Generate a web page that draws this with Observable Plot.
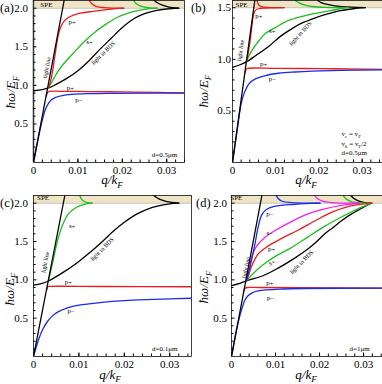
<!DOCTYPE html>
<html><head><meta charset="utf-8">
<script src="https://cdn.jsdelivr.net/npm/d3@7"></script>
<script src="https://cdn.jsdelivr.net/npm/@observablehq/plot@0.6"></script>
<style>
body{margin:0;background:#fff;}
#wrap{position:relative;width:382px;height:384px;overflow:hidden;background:#fff;}
.panel{position:absolute;width:191px;height:192px;}
.panel svg{display:block;}
</style></head><body><div id="wrap"></div>
<script>
// ---------- tick values ----------
const qTicks = [0, 0.01, 0.02, 0.03];
const qMinor = [0.002,0.004,0.006,0.008,0.012,0.014,0.016,0.018,0.022,0.024,0.026,0.028,0.032,0.034];
const wTicks = [0.5, 1.0, 1.5, 2.0];
const wTicksB = [0.5, 1.0, 1.5];
const wMinor = [0.1,0.2,0.3,0.4,0.6,0.7,0.8,0.9,1.1,1.2,1.3,1.4,1.6,1.7,1.8,1.9];

// ---------- panel (a), d = 0.5 um ----------
const a_spe = [2.0, 2.1];
const a_light = [[0,0],[0.0069,2.1]];
const a_bds = [[0,0.93],[0.002,0.945],[0.0034,0.966],[0.005,1.01],[0.0075,1.09],[0.01,1.19],[0.0125,1.32],[0.015,1.47],[0.0175,1.61],[0.02,1.75],[0.0225,1.86],[0.025,1.93],[0.0275,1.97],[0.03,1.99],[0.0327,2.0]];
const a_bdsSpe = [[0.0272,2.1],[0.0279,2.07],[0.029,2.04],[0.0305,2.015],[0.0327,2.0]];
const a_sPlus = [[0.0034,0.97],[0.0045,1.08],[0.0055,1.18],[0.0068,1.28],[0.009,1.42],[0.0113,1.56],[0.0143,1.71],[0.0165,1.8],[0.0188,1.88],[0.0215,1.94],[0.024,1.975],[0.0263,1.995],[0.0278,2.0]];
const a_sPlusSpe = [[0.0226,2.1],[0.0231,2.06],[0.024,2.03],[0.0252,2.012],[0.0278,2.0]];
const a_pPlusUp = [[0.0035,0.98],[0.0041,1.12],[0.0046,1.3],[0.005,1.45],[0.0054,1.6],[0.0059,1.72],[0.0066,1.81],[0.0076,1.87],[0.009,1.91],[0.0105,1.935],[0.0135,1.96],[0.017,1.985],[0.0203,2.0]];
const a_pPlusSpe = [[0.0126,2.1],[0.0131,2.06],[0.0141,2.025],[0.016,2.008],[0.0203,2.0]];
const a_pPlusLow = [[0.0029,0.86],[0.0032,0.91],[0.0037,0.922],[0.006,0.923],[0.012,0.92],[0.02,0.915],[0.028,0.908],[0.034,0.902]];
const a_pMinus = [[0,0],[0.0015,0.43],[0.0022,0.6],[0.0027,0.69],[0.0033,0.76],[0.004,0.81],[0.005,0.845],[0.0065,0.868],[0.0085,0.882],[0.012,0.892],[0.018,0.897],[0.034,0.9]];
const a_labels = [
  {t:"SPE", q:0.0029, w:2.05, kind:"spe"},
  {t:"p₊", q:0.0087, w:1.82, kind:"tag"},
  {t:"s₊", q:0.0126, w:1.56, kind:"tag"},
  {t:"p₊", q:0.0083, w:0.966, kind:"tag"},
  {t:"p₋", q:0.0102, w:0.81, kind:"tag"},
  {t:"light line", q:0.003, w:1.23, kind:"light"},
  {t:"light in BDS", q:0.0157, w:1.42, kind:"bds"},
  {t:"d=0.5μm", q:0.0295, w:0.1, kind:"note"}
];

// ---------- panel (b), ve = vF, vh = vF/2, d = 0.5 um ----------
const b_spe = [1.5, 1.57];
const b_light = [[0,0],[0.00516,1.57]];
const b_bds = [[0,0.923],[0.0016,0.945],[0.0032,0.975],[0.0055,1.04],[0.0085,1.13],[0.011,1.22],[0.0135,1.29],[0.016,1.35],[0.019,1.4],[0.022,1.44],[0.025,1.472],[0.028,1.49],[0.0307,1.5]];
const b_bdsSpe = [[0.0197,1.57],[0.0205,1.55],[0.0222,1.53],[0.0253,1.51],[0.0307,1.5]];
const b_sPlus = [[0.0032,0.98],[0.0045,1.086],[0.0061,1.18],[0.0076,1.25],[0.01,1.31],[0.013,1.377],[0.0161,1.416],[0.0192,1.445],[0.0223,1.47],[0.025,1.49],[0.0268,1.5]];
const b_sPlusSpe = [[0.0145,1.57],[0.0155,1.545],[0.0168,1.525],[0.0184,1.512],[0.0214,1.503],[0.0268,1.5]];
const b_pPlusUp = [[0.0033,0.98],[0.0038,1.1],[0.0042,1.22],[0.0045,1.33],[0.0048,1.42],[0.0052,1.47],[0.006,1.49],[0.008,1.497],[0.0119,1.5]];
const b_pPlusSpe = [[0.0057,1.57],[0.0059,1.54],[0.0064,1.515],[0.0075,1.505],[0.0119,1.5]];
const b_pPlusLow = [[0.0029,0.87],[0.0032,0.905],[0.0036,0.913],[0.01,0.912],[0.02,0.91],[0.03,0.905],[0.0347,0.903]];
const b_pMinus = [[0,0],[0.001,0.29],[0.002,0.57],[0.0026,0.66],[0.003,0.7],[0.0038,0.762],[0.0053,0.81],[0.0076,0.843],[0.0107,0.865],[0.0145,0.877],[0.0184,0.885],[0.025,0.893],[0.0347,0.898]];
const b_labels = [
  {t:"SPE", q:0.0021, w:1.525, kind:"spe"},
  {t:"p₊", q:0.0061, w:1.425, kind:"tag"},
  {t:"s₊", q:0.0092, w:1.28, kind:"tag"},
  {t:"p₊", q:0.0072, w:0.956, kind:"tag"},
  {t:"p₋", q:0.0092, w:0.81, kind:"tag"},
  {t:"light line", q:0.0019, w:1.085, kind:"light"},
  {t:"light in BDS", q:0.0157, w:1.25, kind:"bds"}
];
const b_legend = [
  [["v",0],["e",1],[" = v",0],["F",1]],
  [["v",0],["h",1],[" = v",0],["F",1],["/2",0]],
  [["d=0.5μm",0]]
];

// ---------- panel (c), d = 0.1 um ----------
const c_spe = [2.0, 2.1];
const c_light = [[0,0],[0.0069,2.1]];
const c_bds = [[0,0.93],[0.0017,0.95],[0.0033,0.985],[0.0066,1.1],[0.01,1.24],[0.0125,1.36],[0.015,1.49],[0.0175,1.63],[0.02,1.75],[0.0225,1.85],[0.025,1.92],[0.0275,1.965],[0.03,1.99],[0.032,2.0]];
const c_bdsSpe = [[0.0265,2.1],[0.0272,2.07],[0.028,2.045],[0.0294,2.02],[0.032,2.0]];
const c_sPlus = [[0.0033,0.99],[0.0039,1.14],[0.0044,1.27],[0.0052,1.49],[0.0063,1.7],[0.0077,1.86],[0.0096,1.95],[0.0112,1.985],[0.0129,2.0]];
const c_sPlusSpe = [[0.0102,2.1],[0.0105,2.06],[0.0111,2.025],[0.0118,2.008],[0.0129,2.0]];
const c_pPlus = [[0.0029,0.87],[0.0032,0.912],[0.0037,0.915],[0.015,0.913],[0.0348,0.91]];
const c_pMinus = [[0,0],[0.001,0.2],[0.002,0.35],[0.003,0.45],[0.004,0.52],[0.0055,0.585],[0.0075,0.635],[0.01,0.67],[0.015,0.705],[0.02,0.728],[0.025,0.742],[0.03,0.752],[0.0348,0.76]];
const c_labels = [
  {t:"SPE", q:0.0021, w:2.065, kind:"spe"},
  {t:"s₊", q:0.0085, w:1.71, kind:"tag"},
  {t:"p₊", q:0.0077, w:0.976, kind:"tag"},
  {t:"p₋", q:0.0083, w:0.6, kind:"tag"},
  {t:"light line", q:0.0026, w:1.23, kind:"light"},
  {t:"light in BDS", q:0.0151, w:1.4, kind:"bds"},
  {t:"d=0.1μm", q:0.0289, w:0.095, kind:"note"}
];

// ---------- panel (d), d = 1 um ----------
const d_spe = [2.0, 2.1];
const d_light = [[0,0],[0.0069,2.1]];
const d_bds = [[0,0.925],[0.0017,0.95],[0.0035,0.99],[0.007,1.05],[0.0105,1.15],[0.014,1.27],[0.0175,1.41],[0.019,1.48],[0.0212,1.6],[0.023,1.68],[0.025,1.77],[0.027,1.85],[0.0288,1.91],[0.0305,1.965],[0.0318,2.0]];
const d_bdsSpe = [[0.0271,2.1],[0.0278,2.06],[0.0288,2.03],[0.03,2.01],[0.0318,2.0]];
const d_pMinusUp = [[0.0034,0.99],[0.004,1.12],[0.0046,1.27],[0.0054,1.49],[0.0061,1.7],[0.0069,1.85],[0.008,1.92],[0.0099,1.96],[0.0145,1.985],[0.0201,2.0]];
const d_pMinusSpe = [[0.0102,2.1],[0.0106,2.06],[0.0115,2.025],[0.0135,2.008],[0.0201,2.0]];
const d_sMinus = [[0.0034,0.99],[0.0039,1.1],[0.0046,1.3],[0.0057,1.44],[0.0077,1.56],[0.0098,1.64],[0.0136,1.76],[0.0174,1.86],[0.0212,1.925],[0.025,1.97],[0.029,2.0]];
const d_sMinusSpe = [[0.0189,2.1],[0.0195,2.06],[0.0205,2.03],[0.0227,2.008],[0.029,2.0]];
const d_pPlusUp = [[0.0034,0.99],[0.004,1.08],[0.0046,1.18],[0.0061,1.34],[0.0083,1.44],[0.0114,1.54],[0.0152,1.65],[0.019,1.77],[0.0227,1.88],[0.0265,1.955],[0.0303,1.99],[0.032,2.0]];
const d_sPlus = [[0.0034,0.99],[0.0054,1.11],[0.0077,1.22],[0.0098,1.3],[0.0136,1.42],[0.0174,1.56],[0.0212,1.7],[0.025,1.82],[0.0288,1.93],[0.0311,1.98],[0.0318,2.0]];
const d_sPlusSpe = [[0.0254,2.1],[0.0259,2.06],[0.0268,2.03],[0.028,2.01],[0.0318,2.0]];
const d_pPlusLow = [[0.0027,0.83],[0.003,0.885],[0.0036,0.9],[0.006,0.9],[0.015,0.897],[0.0343,0.893]];
const d_pMinusLow = [[0,0],[0.0015,0.44],[0.0025,0.65],[0.003,0.73],[0.0037,0.79],[0.0047,0.83],[0.006,0.855],[0.008,0.87],[0.011,0.88],[0.016,0.887],[0.0343,0.892]];
const d_labels = [
  {t:"SPE", q:0.0011, w:2.065, kind:"spe"},
  {t:"p₋", q:0.0087, w:1.86, kind:"tag"},
  {t:"s₋", q:0.0087, w:1.61, kind:"tag"},
  {t:"p₊", q:0.0091, w:1.4, kind:"tag"},
  {t:"s₊", q:0.0091, w:1.23, kind:"tagr"},
  {t:"p₊", q:0.0087, w:0.96, kind:"tag"},
  {t:"p₋", q:0.0089, w:0.77, kind:"tag"},
  {t:"light line", q:0.0033, w:1.16, kind:"light"},
  {t:"light in BDS", q:0.0159, w:1.23, kind:"bds"},
  {t:"d=1μm", q:0.0291, w:0.1, kind:"note"}
];

// ---------- styling (kept out of the data) ----------
const COLOR = {red:"#ec1c1c", green:"#1fbe1f", blue:"#1a2be8", magenta:"#ee22ee", black:"#000"};
const SPE_FILL = "#efe4c4";
const SERIF = "'Liberation Serif','DejaVu Serif',serif";
const fmtX = d => d === 0 ? "0" : d3.format(".2f")(d);
const fmtY = d => d3.format(".1f")(d);

function rich(g, x, y, parts, size, opts = {}) {
  const t = g.append("text").attr("x", x).attr("y", y)
    .attr("font-family", SERIF).attr("font-size", size).attr("fill", "#000")
    .attr("text-anchor", opts.anchor || "start");
  if (opts.rotate) t.attr("transform", `rotate(${opts.rotate},${x},${y})`);
  if (opts.italic) t.attr("font-style", "italic");
  let sub = false;
  for (const [s, isSub] of parts) {
    const ts = t.append("tspan").text(s);
    if (isSub && !sub) { ts.attr("dy", size * 0.3).attr("font-size", size * 0.7); sub = true; }
    else if (!isSub && sub) { ts.attr("dy", -size * 0.3); sub = false; }
    else if (isSub) ts.attr("font-size", size * 0.7);
  }
  return t;
}

function makePanel(p) {
  const X = d => d[0], Y = d => d[1];
  const rot = {light: p.lightRot, bds: p.bdsRot, tagr: -35};
  const fsz = {spe: 7, tag: 7, tagr: 7, light: 6, bds: 6, note: 7};
  const marks = [
    Plot.rect([p.spe], {x1: () => 0, x2: () => p.xMax, y1: d => d[0], y2: d => d[1], fill: SPE_FILL}),
    Plot.ruleY([p.spe[0]], {stroke: "#bcb6a4", strokeWidth: 0.9}),
  ];
  if (p.grayAxis) marks.push(Plot.ruleX([0], {stroke: "#b8b8b8", strokeWidth: 2.5}));
  for (const c of p.curves) {
    marks.push(Plot.line(c.data, {x: X, y: Y, stroke: COLOR[c.color], strokeWidth: 1.3, curve: "catmull-rom", clip: true}));
  }
  marks.push(Plot.text(p.labels, {
    x: d => d.q, y: d => d.w, text: d => d.t,
    rotate: d => rot[d.kind] || 0, fontSize: d => fsz[d.kind],
    fill: "#000", fontFamily: SERIF, textAnchor: "middle"
  }));
  marks.push(
    Plot.axisX({ticks: qMinor.concat(qTicks).filter(v => v <= p.xMax), tickSize: -2.5, tickFormat: () => "", label: null, stroke: "#000"}),
    Plot.axisX({ticks: qTicks, tickSize: -3.5, tickPadding: 7, tickFormat: fmtX, fontSize: 11, label: null}),
    Plot.axisY({ticks: wMinor.filter(v => v <= p.yMax), tickSize: -2.5, tickFormat: () => "", label: null}),
    Plot.axisY({ticks: p.wTicks, tickSize: -3.5, tickPadding: p.ytp, tickFormat: fmtY, fontSize: 11, label: null}),
    Plot.frame({stroke: "#111", strokeWidth: 0.8})
  );
  const svg = Plot.plot({
    width: 191, height: 192,
    marginLeft: p.ml, marginRight: p.mr, marginTop: p.mt, marginBottom: p.mb,
    x: {domain: [0, p.xMax], label: null},
    y: {domain: [0, p.yMax], label: null},
    style: {fontFamily: SERIF, fontSize: "11px", background: "transparent", overflow: "visible"},
    marks
  });
  const g = d3.select(svg).append("g");
  // panel letter
  g.append("text").attr("x", p.tag[0]).attr("y", p.tag[1]).attr("font-family", SERIF)
    .attr("text-anchor", "start").attr("font-size", 12.5).text(p.tagText);
  // axis titles
  rich(g, p.xl[0], p.xl[1], [["q/k",0],["F",1]], 13, {anchor: "middle", italic: true});
  rich(g, p.yl[0], p.yl[1], [["ħω/E",0],["F",1]], 13, {anchor: "middle", italic: true, rotate: -90});
  if (p.legend) {
    p.legend.forEach((parts, i) => rich(g, p.legendPos[0], p.legendPos[1] + i * 9.5, parts, 7));
  }
  const div = document.createElement("div");
  div.className = "panel";
  div.style.left = p.left + "px"; div.style.top = p.top + "px";
  div.appendChild(svg);
  document.getElementById("wrap").appendChild(div);
}

makePanel({
  left: 0, top: 0, ml: 33, mr: 7, mt: 0, mb: 30, xMax: 0.034, yMax: 2.1, wTicks, ytp: 9,
  spe: a_spe, labels: a_labels, lightRot: -79, bdsRot: -44, grayAxis: true,
  tag: [0, 11.5], tagText: "(a)", xl: [112, 184], yl: [15, 92],
  curves: [
    {data: a_bds, color: "black"}, {data: a_bdsSpe, color: "black"},
    {data: a_sPlus, color: "green"}, {data: a_sPlusSpe, color: "green"},
    {data: a_pPlusUp, color: "red"}, {data: a_pPlusSpe, color: "red"},
    {data: a_pPlusLow, color: "red"}, {data: a_pMinus, color: "blue"},
    {data: a_light, color: "black"}
  ]
});
makePanel({
  left: 191, top: 0, ml: 41, mr: 0, mt: 0, mb: 30, xMax: 0.0347, yMax: 1.57, wTicks: wTicksB, ytp: 5,
  spe: b_spe, labels: b_labels, lightRot: -82, bdsRot: -48,
  tag: [0, 11.5], tagText: "(b)", xl: [115, 184], yl: [16.5, 91],
  legend: b_legend, legendPos: [150.5, 136],
  curves: [
    {data: b_bds, color: "black"}, {data: b_bdsSpe, color: "black"},
    {data: b_sPlus, color: "green"}, {data: b_sPlusSpe, color: "green"},
    {data: b_pPlusUp, color: "red"}, {data: b_pPlusSpe, color: "red"},
    {data: b_pPlusLow, color: "red"}, {data: b_pMinus, color: "blue"},
    {data: b_light, color: "black"}
  ]
});
makePanel({
  left: 0, top: 192, ml: 33, mr: 0, mt: 3, mb: 28, xMax: 0.0348, yMax: 2.1, wTicks, ytp: 9,
  spe: c_spe, labels: c_labels, lightRot: -79, bdsRot: -45,
  tag: [0, 15], tagText: "(c)", xl: [110, 186.5], yl: [13.5, 97],
  curves: [
    {data: c_bds, color: "black"}, {data: c_bdsSpe, color: "black"},
    {data: c_sPlus, color: "green"}, {data: c_sPlusSpe, color: "green"},
    {data: c_pPlus, color: "red"}, {data: c_pMinus, color: "blue"},
    {data: c_light, color: "black"}
  ]
});
makePanel({
  left: 191, top: 192, ml: 40, mr: 0, mt: 3, mb: 28, xMax: 0.0343, yMax: 2.1, wTicks, ytp: 8,
  spe: d_spe, labels: d_labels, lightRot: -79, bdsRot: -45,
  tag: [5, 15], tagText: "(d)", xl: [115, 186.5], yl: [17, 95],
  curves: [
    {data: d_bds, color: "black"}, {data: d_bdsSpe, color: "black"},
    {data: d_sPlus, color: "green"}, {data: d_sPlusSpe, color: "green"},
    {data: d_pPlusUp, color: "red"},
    {data: d_sMinus, color: "magenta"}, {data: d_sMinusSpe, color: "magenta"},
    {data: d_pMinusUp, color: "blue"}, {data: d_pMinusSpe, color: "blue"},
    {data: d_pPlusLow, color: "red"}, {data: d_pMinusLow, color: "blue"},
    {data: d_light, color: "black"}
  ]
});
</script></body></html>
